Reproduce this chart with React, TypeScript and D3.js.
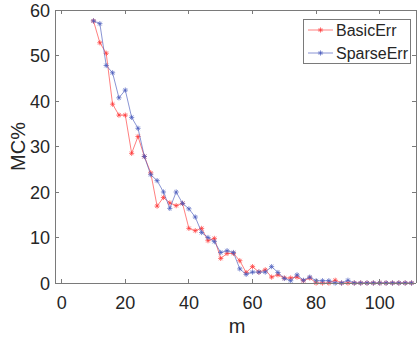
import React from "react";
import * as d3 from "d3";

const mValues = d3.range(10, 112, 2);
const basicErr = [
  57.6, 52.8, 50.5, 39.3, 36.9, 36.9, 28.5, 32.2, 27.8, 24.2,
  16.9, 18.8, 17.6, 17.0, 17.5, 12.0, 11.5, 12.0, 9.3, 9.8,
  5.4, 6.5, 6.5, 4.9, 2.3, 3.6, 2.4, 2.9, 1.3, 1.8,
  1.1, 1.1, 1.3, 0.5, 1.1, 0, 0, 0, 0.6, 0,
  0, 0, 0, 0, 0, 0, 0, 0, 0, 0, 0,
];
const sparseErr = [
  57.6, 57.0, 47.8, 46.2, 40.7, 42.4, 36.4, 34.0, 27.8, 23.8,
  22.5, 20.0, 16.4, 20.0, 17.5, 16.3, 14.5, 11.1, 10.0, 9.1,
  6.7, 7.1, 6.7, 3.1, 1.9, 2.4, 2.4, 2.4, 3.6, 2.3,
  1.0, 0.5, 1.8, 0.6, 1.3, 0.5, 0.5, 0.5, 0, 0,
  0.6, 0, 0, 0, 0, 0, 0, 0, 0, 0, 0,
];
const xTicks = [0, 20, 40, 60, 80, 100];
const yTicks = [0, 10, 20, 30, 40, 50, 60];
const seriesNames = ["BasicErr", "SparseErr"];
const seriesColors = ["#ff3a3a", "#4a5bbd"];

const W = 417;
const H = 339;
const L = 55, R = 416, T = 10, B = 283;
const FONT = "'Liberation Sans', Arial, Helvetica, sans-serif";
const TXT = "#262626";
const AX = "#7a7a7a";

function star(cx: number, cy: number, r: number) {
  const d = r * 0.707;
  return `M${cx - r},${cy}L${cx + r},${cy}M${cx},${cy - r}L${cx},${cy + r}M${cx - d},${cy - d}L${cx + d},${cy + d}M${cx - d},${cy + d}L${cx + d},${cy - d}`;
}

export default function App() {
  const x = d3.scaleLinear().domain([-2.1, 111.4]).range([L, R]);
  const y = d3.scaleLinear().domain([0, 60]).range([B, T]);
  const line = d3
    .line<[number, number]>()
    .x((d) => x(d[0]))
    .y((d) => y(d[1]));
  const series = [basicErr, sparseErr].map((vals) =>
    mValues.map((m, i) => [m, vals[i]] as [number, number])
  );
  const tl = 3.6;
  const legendRows = [30, 53];
  return (
    <svg width={W} height={H} style={{ position: "absolute", left: 0, top: 0, background: "#fff" }}>
      <rect x={0} y={0} width={W} height={H} fill="#fff" />
      {series.map((pts, si) => (
        <g key={si}>
          <path d={line(pts) || ""} fill="none" stroke={seriesColors[si]} strokeWidth={0.65} />
          {pts.map((p, i) => (
            <path key={i} d={star(x(p[0]), y(p[1]), 2.6)} stroke={seriesColors[si]} strokeWidth={0.7} fill="none" />
          ))}
        </g>
      ))}
      {/* box */}
      <g shapeRendering="crispEdges" stroke={AX} strokeWidth={1} fill="none">
        <line x1={L} y1={B + 0.5} x2={R} y2={B + 0.5} />
        <line x1={L} y1={T + 0.5} x2={R} y2={T + 0.5} />
        <line x1={L + 0.5} y1={T} x2={L + 0.5} y2={B} />
        <line x1={R + 0.5} y1={T} x2={R + 0.5} y2={B} />
        {xTicks.map((t) => (
          <g key={"xt" + t}>
            <line x1={x(t)} x2={x(t)} y1={B} y2={B - tl} />
            <line x1={x(t)} x2={x(t)} y1={T} y2={T + tl} />
          </g>
        ))}
        {yTicks.map((t) => (
          <g key={"yt" + t}>
            <line x1={L} x2={L + tl} y1={y(t)} y2={y(t)} />
            <line x1={R} x2={R - tl} y1={y(t)} y2={y(t)} />
          </g>
        ))}
      </g>
      <g fontFamily={FONT} fontSize={18} fill={TXT}>
        {xTicks.map((t) => (
          <text key={"xl" + t} x={x(t)} y={309} textAnchor="middle">
            {t}
          </text>
        ))}
        {yTicks.map((t) => (
          <text key={"yl" + t} x={50} y={y(t) + 6.5} textAnchor="end">
            {t}
          </text>
        ))}
        <text x={237} y={333} textAnchor="middle" fontSize={20}>
          m
        </text>
        <text transform={`translate(25,${(T + B) / 2}) rotate(-90)`} textAnchor="middle" fontSize={20}>
          MC%
        </text>
      </g>
      {/* legend */}
      <g>
        <rect x={303.5} y={19.5} width={107} height={44} fill="#fff" stroke={AX} strokeWidth={1} shapeRendering="crispEdges" />
        {seriesNames.map((n, i) => (
          <g key={n}>
            <line x1={308} x2={333} y1={legendRows[i]} y2={legendRows[i]} stroke={seriesColors[i]} strokeWidth={0.65} />
            <path d={star(320.5, legendRows[i], 2.6)} stroke={seriesColors[i]} strokeWidth={0.7} fill="none" />
            <text x={336} y={legendRows[i] + 5.8} fontFamily={FONT} fontSize={16} fill={TXT}>
              {n}
            </text>
          </g>
        ))}
      </g>
    </svg>
  );
}
